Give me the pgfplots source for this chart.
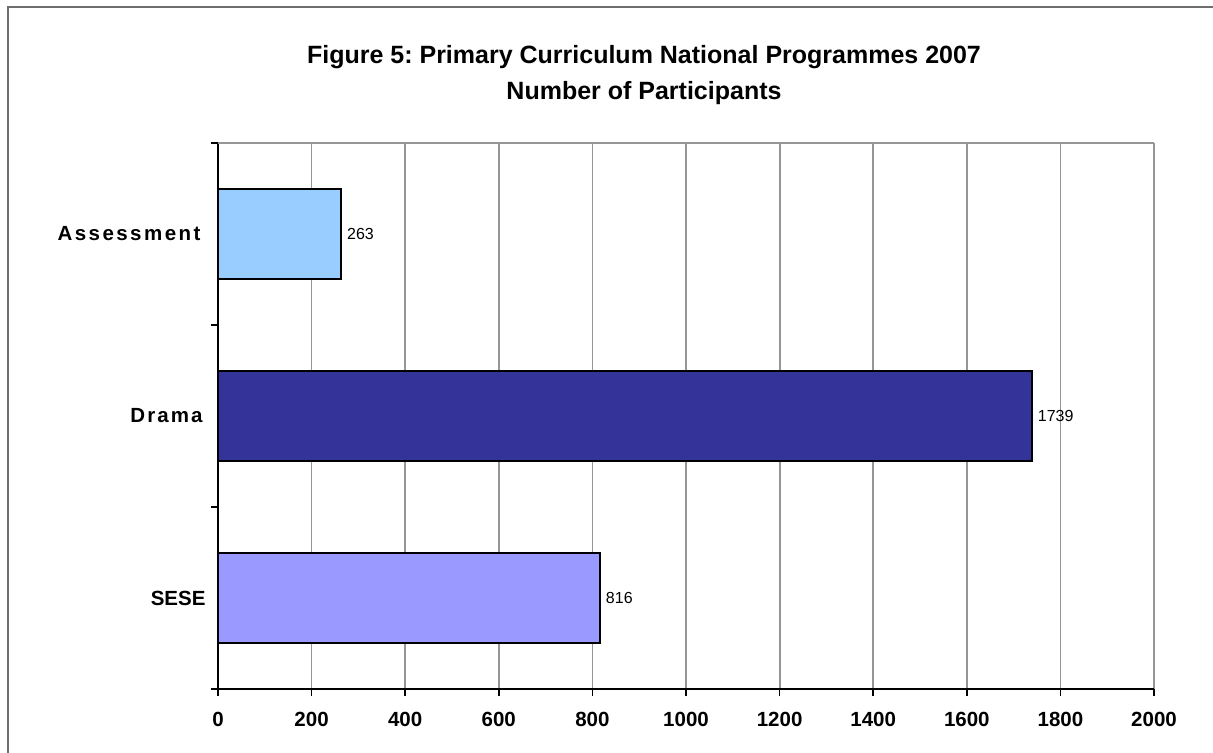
\documentclass[border=0pt]{standalone}
\usepackage{fontspec}
\setmainfont{Liberation Sans}
\usepackage{pgfplots}
\pgfplotsset{compat=1.18}
\definecolor{cAss}{RGB}{153,204,255}
\definecolor{cDra}{RGB}{51,51,153}
\definecolor{cSes}{RGB}{153,153,255}
\definecolor{gridc}{RGB}{150,150,150}
\definecolor{framec}{RGB}{110,110,110}
\frenchspacing
\begin{document}
\begin{tikzpicture}[x=1bp,y=1bp]
\useasboundingbox (-218,-64) rectangle (995,689);
\fill[white] (-218,-64) rectangle (995,689);
\draw[line width=1.5bp, framec] (-210,-70) -- (-210,682) -- (1000,682);
\node[anchor=base, inner sep=0pt, font=\bfseries\fontsize{25bp}{30bp}\selectfont] at (426,625) {Figure 5: Primary Curriculum National Programmes 2007};
\node[anchor=base, inner sep=0pt, font=\bfseries\fontsize{25bp}{30bp}\selectfont] at (426,589) {Number of Participants};
\begin{axis}[
  at={(0,0)}, anchor=south west,
  scale only axis, width=936bp, height=546bp,
  xbar, bar width=90bp,
  xmin=0, xmax=2000, ymin=-0.5, ymax=2.5,
  xtick={0,200,...,2000},
  xticklabel={\pgfmathprintnumber[assume math mode=true,1000 sep={}]{\tick}},
  xticklabel style={font=\bfseries\fontsize{20.5bp}{24bp}\selectfont, yshift=-13bp},
  ytick={-0.5,0.5,1.5,2.5}, yticklabels={},
  extra y ticks={0,1,2},
  extra y tick labels={SESE,{\addfontfeature{LetterSpace=10}Drama}\kern3bp,{\addfontfeature{LetterSpace=12}Assessment}\kern5bp},
  extra y tick style={major tick length=0pt, yticklabel style={font=\bfseries\fontsize{20.5bp}{24bp}\selectfont, xshift=-9bp}},
  axis x line*=bottom, axis y line*=left,
  axis line style={line width=1.5bp, black},
  tick align=outside,
  major tick length=7bp,
  tick style={line width=1.5bp, black},
  xmajorgrids,
  major x grid style={line width=1.8bp, gridc},
  point meta=x,
  nodes near coords={\pgfmathprintnumber[assume math mode=true,1000 sep={}]{\pgfplotspointmeta}},
  every node near coord/.append style={font=\fontsize{16bp}{18bp}\selectfont, anchor=west, xshift=2bp},
  clip=false,
]
\draw[line width=1.8bp, gridc] (rel axis cs:0,1) -- (rel axis cs:1,1);
\addplot[fill=cSes, draw=black, line width=1.5bp, bar shift=0pt] coordinates {(816,0)};
\addplot[fill=cDra, draw=black, line width=1.5bp, bar shift=0pt] coordinates {(1739,1)};
\addplot[fill=cAss, draw=black, line width=1.5bp, bar shift=0pt] coordinates {(263,2)};
\end{axis}
\end{tikzpicture}
\end{document}
